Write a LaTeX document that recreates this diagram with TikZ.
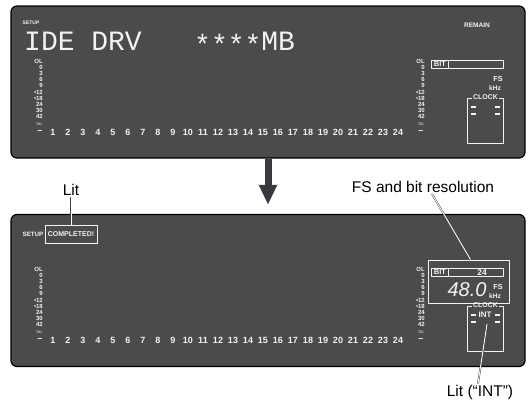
\documentclass[tikz,border=0pt]{standalone}
\usepackage{fontspec}
\setmainfont{Liberation Sans}
\newfontfamily\lcdfont{Liberation Mono}
\usepackage{tikz}
\usetikzlibrary{arrows.meta, positioning, calc}
\definecolor{panelgray}{HTML}{4B4B4B}
\definecolor{segwhite}{HTML}{F2F2F2}
\definecolor{arrowgray}{HTML}{3A3A3E}

\begin{document}
\begin{tikzpicture}[x=1pt, y=-1pt,
      panel/.style={draw=black, line width=1.2pt, fill=panelgray, rounded corners=6pt,
        minimum width=514pt, minimum height=152pt, inner sep=0pt},
      seg/.style={text=segwhite, font=\bfseries\fontsize{#1}{#1}\selectfont, inner sep=0pt},
      seg/.default=6.5,
      meter/.style={seg=6, anchor=east, text height=4.3pt, text depth=0pt},
      lcd/.style={text=segwhite, font=\lcdfont\fontsize{28}{28}\selectfont, inner sep=0pt,
        text height=18pt, text depth=0pt},
      segbox/.style={draw=segwhite, line width=0.8pt, inner sep=0pt},
      tick/.style={segwhite, line width=2pt},
      callout/.style={font=\fontsize{15.5}{18}\selectfont, inner sep=1pt},
      leader/.style={draw=black!75, double=white, double distance=0.9pt, line width=0.45pt},
      bigarrow/.style={arrowgray, line width=7pt, -{Triangle[length=20pt, width=17pt]}, shorten >=9pt}
    ]
    \useasboundingbox (0,0) rectangle (531,405);

    \node[panel] (top) at (268,82) {};
    \node[panel] (bottom) at (268,290.5) {};

    % top display
    \node[seg=5, text height=3.6pt, text depth=0pt] (setup-a) at (31,23) {SETUP};
    \node[lcd, anchor=base west] (drive) at (24,50) {IDE DRV};
    \node[lcd, anchor=base west] (size) at (194,50) {\raisebox{-4pt}{****}MB};
    \node[seg] (remain) at (477,25) {REMAIN};

    % parts shared by both displays
    \foreach \oy in {0,208}{
      \foreach \t [count=\i from 0] in {OL,0,3,6,9,{\textbullet12},{\textbullet18},24,30,42,$\infty$}{
        \node[meter] (scl-l-\oy-\i) at (43,61+\oy+6.2*\i) {\t};
        \node[meter] (scl-r-\oy-\i) at (425,61+\oy+6.2*\i) {\t};
      }
      \node[seg=9] (dash-l-\oy) at (40,132+\oy) {\textendash};
      \foreach \c in {1,...,24}
        \node[seg=9] (ch-\oy-\c) at (38+15*\c,132+\oy) {\c};
      \node[seg=9] (dash-r-\oy) at (421,132+\oy) {\textendash};

      \node[segbox, minimum width=71.5pt, minimum height=8.5pt] (bit-\oy) at (467.2,64.2+\oy) {};
      \node[segbox, seg=7.5, minimum width=17pt, minimum height=8.5pt, anchor=west] (bitlbl-\oy)
        at (bit-\oy.west) {BIT};
      \node[seg=7.3] (fs-\oy) at (498,79+\oy) {FS};
      \node[seg=6.6] (khz-\oy) at (495,88+\oy) {kHz};

      \node[segbox, minimum width=36pt, minimum height=45pt] (clk-\oy) at (485.5,120.5+\oy) {};
      \node[seg=6.9, fill=panelgray, inner xsep=1pt] (clklbl-\oy) at (clk-\oy.north) {CLOCK};
      \foreach \dx in {-12,12}
        \foreach \dy in {9,16}
          \draw[tick] ($(clk-\oy.north)+(\dx-2.5,\dy)$) -- ++(5,0);
    }

    % bottom display
    \node[seg=6.2] (setup-b) at (33,234.5) {SETUP};
    \node[segbox, seg=7, minimum width=52pt, minimum height=18pt] (done) at (71,234) {COMPLETED!};
    \node[segbox, minimum width=81pt, minimum height=43pt] (fsbox) at (468.5,281.5) {};
    \node[seg=8.5] (bits) at (482,272.5) {24};
    \node[text=segwhite, font=\itshape\fontsize{20}{20}\selectfont, inner sep=0pt] (rate) at (467,290) {48.0};
    \node[seg=8] (int) at (485,314.5) {INT};
    \coordinate (intpt) at (487,324);

    \draw[bigarrow] (top) -- (bottom);

    \node[callout] (lit) at (71,190) {Lit};
    \node[callout] (fsnote) at (423,187) {FS and bit resolution};
    \node[callout] (intnote) at (480,392) {Lit (``INT'')};

    \draw[leader] (lit) -- (done);
    \draw[leader] ([xshift=9pt]fsnote.south) -- ([xshift=2pt]fsbox.north);
    \draw[leader] ([xshift=-2pt]intnote.north) -- (intpt);
  \end{tikzpicture}
\end{document}
